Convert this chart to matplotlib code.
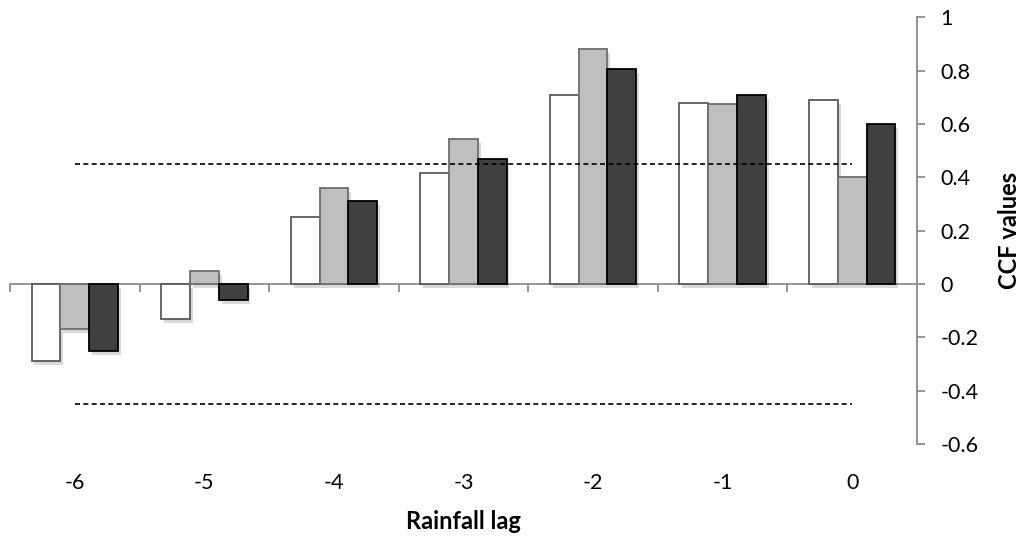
import matplotlib
matplotlib.use("Agg")
import matplotlib.pyplot as plt
import matplotlib.patheffects as pe
import numpy as np

# cross-correlation of rainfall lag vs. three series
lags = ["-6", "-5", "-4", "-3", "-2", "-1", "0"]
ccf_a = [-0.29, -0.13, 0.25, 0.415, 0.71, 0.68, 0.69]
ccf_b = [-0.17, 0.05, 0.36, 0.545, 0.88, 0.675, 0.40]
ccf_c = [-0.25, -0.06, 0.31, 0.47, 0.805, 0.71, 0.60]
conf_limit = 0.45
y_ticks = [-0.6, -0.4, -0.2, 0, 0.2, 0.4, 0.6, 0.8, 1]
y_labels = ["-0.6", "-0.4", "-0.2", "0", "0.2", "0.4", "0.6", "0.8", "1"]

plt.rcParams['font.family'] = ['Lato', 'DejaVu Sans']

fig = plt.figure(figsize=(10.26, 5.43), dpi=100)
ax = fig.add_axes([10 / 1026, 1 - 444 / 543, 907 / 1026, (444 - 17.3) / 543])

x = np.arange(len(lags))
w = 0.222
shadow = [pe.SimplePatchShadow(offset=(2, -3), shadow_rgbFace="#000000", alpha=0.15), pe.Normal()]
styles = [
    (ccf_a, "white", "#5a5a5a"),
    (ccf_b, "#bfbfbf", "#6e6e6e"),
    (ccf_c, "#404040", "#000000"),
]
for i, (vals, fc, ec) in enumerate(styles):
    bars = ax.bar(x + (i - 1) * w, vals, width=w, color=fc, edgecolor=ec,
                  linewidth=1.3, zorder=3)
    for b in bars:
        b.set_path_effects(shadow)

# significance limits
ax.hlines([conf_limit, -conf_limit], x[0], x[-1], colors="black",
          linestyles=(0, (3, 2)), linewidth=1.2, zorder=4)

ax.set_xlim(-0.5, len(lags) - 0.5)
ax.set_ylim(-0.6, 1)

for s in ["left", "top"]:
    ax.spines[s].set_visible(False)
ax.spines["right"].set_color("#8c8c8c")
ax.spines["right"].set_linewidth(1.3)
ax.spines["bottom"].set_position(("data", 0))
ax.spines["bottom"].set_color("#8c8c8c")
ax.spines["bottom"].set_linewidth(1.3)
ax.spines["bottom"].set_zorder(2)

ax.yaxis.tick_right()
ax.set_yticks(y_ticks)
ax.set_yticklabels(y_labels)
ax.tick_params(axis="y", direction="out", length=6, width=1.3, color="#8c8c8c",
               pad=11, labelsize=15.5)

# category boundary ticks on the zero line
ax.set_xticks(np.arange(-0.5, len(lags) - 1, 1.0))
ax.set_xticklabels([])
ax.tick_params(axis="x", direction="out", length=6, width=1.3, color="#8c8c8c")

ax.yaxis.set_label_position("right")
ax.set_ylabel("CCF values", fontsize=17, fontweight="bold", labelpad=14)

# category labels along the bottom of the plot area
sec = ax.secondary_xaxis("bottom")
sec.set_xticks(x)
sec.set_xticklabels(lags)
sec.tick_params(length=0, pad=21, labelsize=15.5)
sec.spines["bottom"].set_visible(False)
sec.set_xlabel("Rainfall lag", fontsize=17, fontweight="bold", labelpad=12)

fig.savefig("out.png", dpi=100)
